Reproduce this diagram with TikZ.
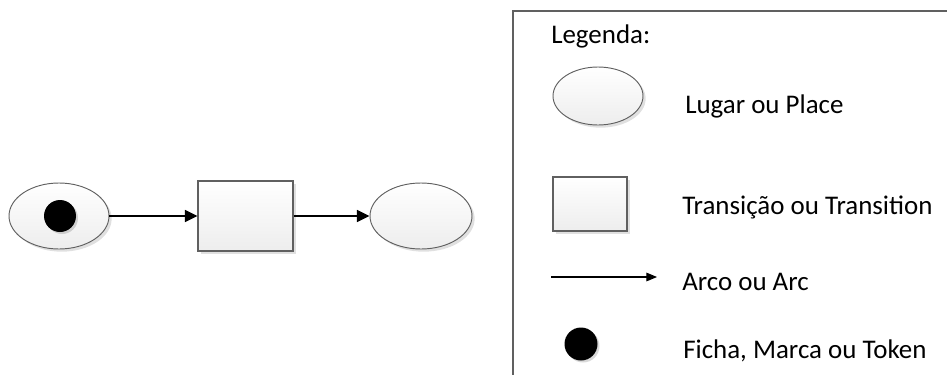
\documentclass[tikz,border=0pt]{standalone}
\usepackage{fontspec}
\setmainfont{Carlito}
\usetikzlibrary{positioning,shapes.geometric,shadows,arrows.meta}

\begin{document}
\begin{tikzpicture}[x=0.75pt, y=-0.75pt,
    place/.style = {ellipse, draw=gray!75!black, line width=0.7pt, top color=white, bottom color=gray!14, inner sep=0pt,
        drop shadow={shadow xshift=2pt, shadow yshift=-2pt, fill=black, opacity=0.12}},
    trans/.style = {rectangle, draw=gray!75!black, line width=0.8pt, top color=white, bottom color=gray!14, inner sep=0pt,
        drop shadow={shadow xshift=2pt, shadow yshift=-2pt, fill=black, opacity=0.12}},
    token/.style = {circle, fill=black, inner sep=0pt, minimum size=24pt,
        drop shadow={shadow xshift=1.5pt, shadow yshift=-1.5pt, fill=black, opacity=0.15}},
    arc/.style = {-{Triangle[length=9.5pt,width=9pt]}, line width=1.3pt},
    legtext/.style = {anchor=base west, inner sep=0pt, font=\fontsize{20.2pt}{24pt}\selectfont}]
    \useasboundingbox (0,0) rectangle (947,375);

    % net
    \node[place, minimum width=75pt, minimum height=49.5pt] (p1) at (59,216) {};
    \node[token] (m1) at (60,216) {};
    \node[trans, minimum width=71.25pt, minimum height=52.5pt] (t1) at (245.5,216) {};
    \node[place, minimum width=76.5pt, minimum height=49.5pt] (p2) at (421,216) {};

    \draw[arc] (p1) -- (t1);
    \draw[arc] (t1) -- (p2);

    % legend
    \draw[gray!75!black, line width=1pt] (513,375) -- (513,11) -- (947,11);
    \node[legtext] (leg) at (551,43) {Legenda:};

    \node[place, minimum width=67.5pt, minimum height=43.5pt] (lp) at (598,96) {};
    \node[legtext] (lpt) at (685,113) {Lugar ou Place};

    \node[trans, minimum width=55.5pt, minimum height=40.5pt] (lt) at (590,204) {};
    \node[legtext] (ltt) at (682,214) {Transição ou Transition};

    \coordinate (la1) at (551,277);
    \coordinate (la2) at (657,277);
    \draw[-{Triangle[length=8pt,width=6.5pt]}, line width=0.8pt] (la1) -- (la2);
    \node[legtext] (lat) at (682,290) {Arco ou Arc};

    \node[token, minimum size=24.75pt] (lm) at (581,344) {};
    \node[legtext] (lmt) at (683,358) {Ficha, Marca ou Token};
\end{tikzpicture}
\end{document}
